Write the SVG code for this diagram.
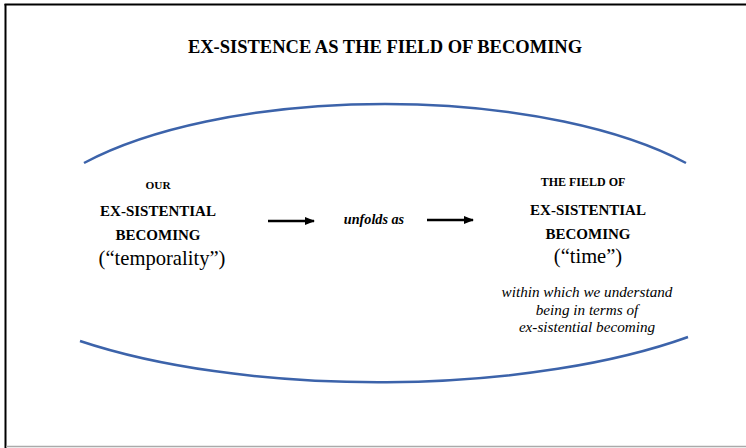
<svg xmlns="http://www.w3.org/2000/svg" width="746" height="448" viewBox="0 0 746 448">
<defs>
<style>
.b{font-family:"Liberation Serif","DejaVu Serif",serif;font-weight:bold;fill:#000;text-anchor:middle}
.r{font-family:"Liberation Serif","DejaVu Serif",serif;fill:#000;text-anchor:middle}
.i{font-family:"Liberation Serif","DejaVu Serif",serif;font-style:italic;fill:#000;text-anchor:middle}
.arc{fill:none;stroke:#3c63aa;stroke-width:2.5}
.arr{stroke:#000;stroke-width:2.5;fill:none}
</style>
<marker id="ah" markerWidth="10" markerHeight="8" refX="9" refY="4" orient="auto" markerUnits="userSpaceOnUse">
<path d="M0,0 L10,4 L0,8 Z" fill="#000"/>
</marker>
</defs>
<rect width="746" height="448" fill="#fff"/>
<line x1="5.5" y1="4" x2="5.5" y2="448" stroke="#000" stroke-width="2"/>
<line x1="4.5" y1="4.5" x2="746" y2="4.5" stroke="#000" stroke-width="2"/>
<line x1="6" y1="446.5" x2="746" y2="446.5" stroke="#aaa" stroke-width="1.5"/>
<g id="title"><text class="b" x="385" y="53" font-size="18.5">EX-SISTENCE AS THE FIELD OF BECOMING</text></g>
<g id="field">
<path class="arc" d="M84,163 A369,140 0 0 1 686,163"/>
<path class="arc" d="M80,341 A421,140 0 0 0 688,337"/>
</g>
<g id="our">
<text class="b" x="158" y="189" font-size="11.3">OUR</text>
<text class="b" x="158" y="216" font-size="15">EX-SISTENTIAL</text>
<text class="b" x="158" y="240" font-size="15">BECOMING</text>
<text class="r" x="162" y="265" font-size="20.6">(“temporality”)</text>
</g>
<g id="unfolds"><text class="i" x="374" y="224" font-size="14.2" font-weight="bold">unfolds as</text></g>
<g id="thefield">
<text class="b" x="583" y="186" font-size="12">THE FIELD OF</text>
<text class="b" x="588" y="215" font-size="15">EX-SISTENTIAL</text>
<text class="b" x="588" y="239" font-size="15">BECOMING</text>
<text class="r" x="588" y="263" font-size="20.5">(“time”)</text>
<text class="i" x="587" y="297" font-size="15.2">within which we understand</text>
<text class="i" x="587" y="315" font-size="15.2">being in terms of</text>
<text class="i" x="587" y="332" font-size="15.2">ex-sistential becoming</text>
</g>
<g id="connectors">
<line class="arr" x1="268" y1="221" x2="314" y2="221" marker-end="url(#ah)"/>
<line class="arr" x1="427" y1="220" x2="473" y2="220" marker-end="url(#ah)"/>
</g>
</svg>
